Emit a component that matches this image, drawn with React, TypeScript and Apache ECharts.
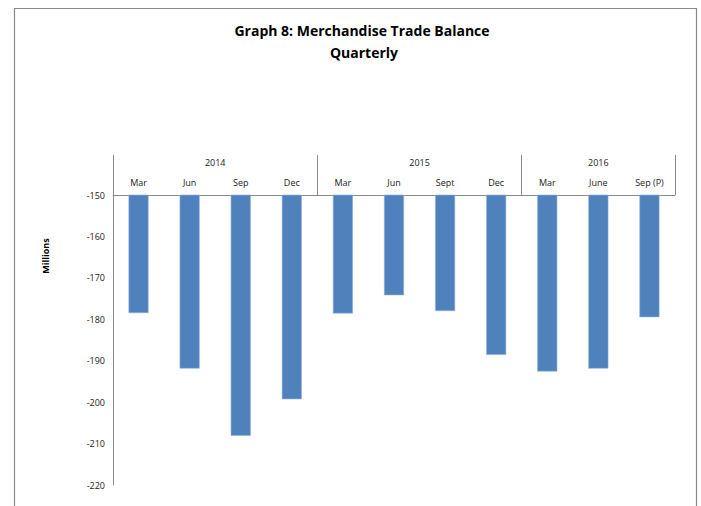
import React, { useEffect, useRef } from "react";
import * as echarts from "echarts";

const titleLines = ["Graph 8: Merchandise Trade Balance", "Quarterly"];
const months = ["Mar", "Jun", "Sep", "Dec", "Mar", "Jun", "Sept", "Dec", "Mar", "June", "Sep (P)"];
const years = ["2014", "2015", "2016"];
const yearSizes = [4, 4, 3];
const values = [-178.5, -191.9, -208.1, -199.3, -178.6, -174.2, -178.0, -188.6, -192.6, -191.9, -179.5];
const yMin = -220;
const yMax = -150;
const yStep = 10;
const yName = "Millions";

const FONT = "'Open Sans', 'Liberation Sans', sans-serif";

export default function App() {
  const ref = useRef<HTMLDivElement>(null);
  useEffect(() => {
    document.body.style.margin = "0";
    const chart = echarts.init(ref.current!, null, { renderer: "svg" });
    const bounds: number[] = [0];
    const centers: number[] = [];
    yearSizes.forEach((s) => {
      const start = bounds[bounds.length - 1];
      centers.push(start + s / 2);
      bounds.push(start + s);
    });
    chart.setOption({
      animation: false,
      backgroundColor: "#ffffff",
      graphic: [
        {
          type: "rect",
          shape: { x: 14.5, y: 8.5, width: 682, height: 520 },
          style: { fill: "none", stroke: "#8a8a8a", lineWidth: 1.2 },
          silent: true,
        },
        {
          type: "text",
          x: 362,
          y: 30,
          style: {
            text: titleLines[0],
            font: `bold 14px ${FONT}`,
            fill: "#000",
            textAlign: "center",
            textVerticalAlign: "middle",
          },
        },
        {
          type: "text",
          x: 364,
          y: 52,
          style: {
            text: titleLines[1],
            font: `bold 14px ${FONT}`,
            fill: "#000",
            textAlign: "center",
            textVerticalAlign: "middle",
          },
        },
        {
          type: "text",
          x: 45,
          y: 256,
          rotation: Math.PI / 2,
          style: {
            text: yName,
            font: `bold 9px ${FONT}`,
            fill: "#000",
            textAlign: "center",
            textVerticalAlign: "middle",
          },
        },
      ],
      grid: { left: 113, top: 195, right: 26, bottom: 21, containLabel: false },
      xAxis: [
        {
          type: "category",
          data: months,
          position: "top",
          axisLine: { show: true, lineStyle: { color: "#8a8a8a", width: 1 } },
          axisTick: { show: false },
          axisLabel: { margin: 8, fontSize: 9, color: "#222", fontFamily: FONT, interval: 0 },
          splitLine: { show: false },
        },
        {
          type: "value",
          min: 0,
          max: bounds[bounds.length - 1],
          position: "top",
          axisLine: { show: false },
          axisTick: {
            show: true,
            customValues: bounds,
            length: 40,
            lineStyle: { color: "#8a8a8a", width: 1 },
          },
          axisLabel: {
            customValues: centers,
            margin: 28,
            fontSize: 9,
            color: "#222",
            fontFamily: FONT,
            formatter: (v: number) => {
              const i = centers.indexOf(v);
              return i >= 0 ? years[i] : "";
            },
          },
          splitLine: { show: false },
        },
      ],
      yAxis: {
        type: "value",
        min: yMin,
        max: yMax,
        interval: yStep,
        axisLine: { show: true, lineStyle: { color: "#8a8a8a", width: 1 } },
        axisTick: { show: false },
        axisLabel: { margin: 8, fontSize: 9, color: "#222", fontFamily: FONT },
        splitLine: { show: false },
      },
      series: [
        {
          type: "bar",
          xAxisIndex: 0,
          data: values,
          barWidth: 20,
          clip: true,
          itemStyle: { color: "#4f81bd", borderColor: "#8eb0d9", borderWidth: 0.6 },
        },
      ],
    });
    return () => chart.dispose();
  }, []);
  return <div ref={ref} style={{ width: 701, height: 506 }} />;
}
